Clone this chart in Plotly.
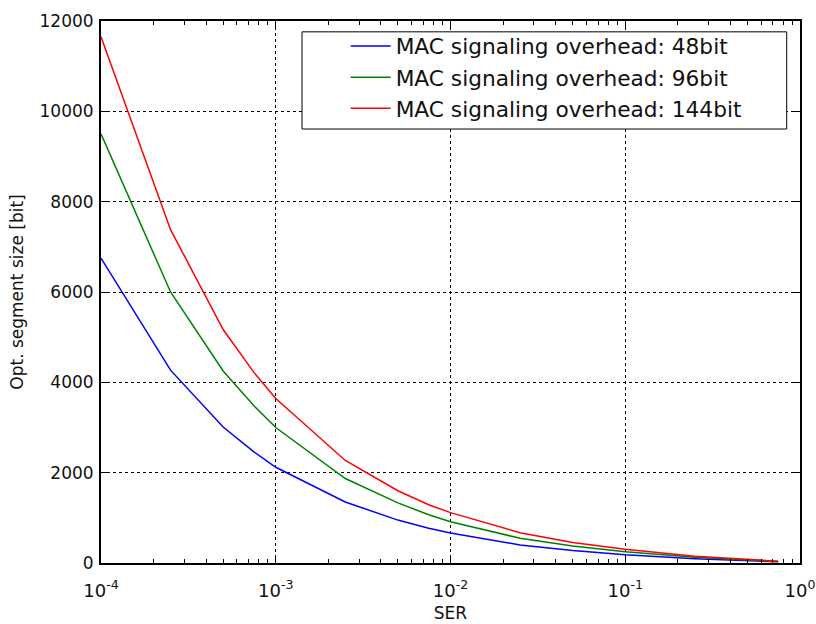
import plotly.graph_objects as go

ser = [1e-4, 2.5e-4, 5e-4, 7.5e-4, 1e-3, 2.5e-3, 5e-3, 7.5e-3, 1e-2,
       2.5e-2, 5e-2, 7.5e-2, 1e-1, 2.5e-1, 5e-1, 7.5e-1]
seg_48 = [6750, 4270, 3010, 2460, 2120, 1350, 950, 770, 665,
          400, 275, 215, 180, 95, 50, 25]
seg_96 = [9500, 6000, 4250, 3480, 3000, 1870, 1330, 1070, 915,
          548, 376, 300, 250, 125, 62, 32]
seg_144 = [11650, 7380, 5170, 4220, 3640, 2270, 1600, 1290, 1115,
           672, 455, 360, 303, 150, 75, 40]
series_names = ["MAC signaling overhead: 48bit",
                "MAC signaling overhead: 96bit",
                "MAC signaling overhead: 144bit"]
colors = ["#0000ff", "#008000", "#ff0000"]
x_tickvals = [1e-4, 1e-3, 1e-2, 1e-1, 1e0]
x_ticktext = ["10<sup>-4</sup>", "10<sup>-3</sup>", "10<sup>-2</sup>",
              "10<sup>-1</sup>", "10<sup>0</sup>"]
x_minor_tickvals = [m * d for d in [1e-4, 1e-3, 1e-2, 1e-1] for m in range(2, 10)]
y_tickvals = [0, 2000, 4000, 6000, 8000, 10000, 12000]
y_ticktext = ["0", "2000", "4000", "6000", "8000", "10000", "12000"]

FONT = "DejaVu Sans"
TXT = "#111"

fig = go.Figure()
for i, (ys, name, c) in enumerate(zip([seg_48, seg_96, seg_144], series_names, colors)):
    fig.add_trace(go.Scatter(x=ser, y=ys, mode="lines", name=name,
                             legendgroup=f"g{i}",
                             line=dict(color=c, width=1.5)))

axis_common = dict(
    showline=True, linecolor="black", linewidth=2, mirror="ticks",
    ticks="inside", ticklen=8, tickwidth=1, tickcolor="black",
    showgrid=True, gridcolor="black", gridwidth=1, griddash="dot",
    zeroline=False, automargin=False,
)

fig.update_xaxes(type="log", range=[-4, 0], tickvals=x_tickvals, ticktext=x_ticktext,
                 ticklabelstandoff=10,
                 tickfont=dict(family=FONT, size=18, color=TXT),
                 title=dict(text="SER", font=dict(family=FONT, size=17, color=TXT), standoff=8),
                 minor=dict(tickvals=x_minor_tickvals, ticks="inside", ticklen=4,
                            tickcolor="black", showgrid=False),
                 **axis_common)
fig.update_yaxes(range=[0, 12000], tickvals=y_tickvals, ticktext=y_ticktext,
                 ticklabelstandoff=2,
                 tickfont=dict(family=FONT, size=17, color=TXT),
                 title=dict(text="Opt. segment size [bit]", font=dict(family=FONT, size=17, color=TXT), standoff=12),
                 **axis_common)

# legend frame
fig.add_shape(type="rect", xref="paper", yref="paper",
              x0=0.2876, x1=0.981, y0=0.8007, y1=0.98,
              fillcolor="white", line=dict(color="black", width=1), layer="above")

fig.update_layout(
    width=816, height=624,
    margin=dict(l=101, r=16, t=21, b=61),
    plot_bgcolor="white", paper_bgcolor="white",
    font=dict(family=FONT, color=TXT),
    legend=dict(x=0.35, y=0.992, xanchor="left", yanchor="top",
                bgcolor="rgba(0,0,0,0)", borderwidth=0,
                font=dict(family=FONT, size=21.7, color=TXT),
                itemwidth=40, tracegroupgap=0),
    showlegend=True,
)

fig.write_html("out.html")
